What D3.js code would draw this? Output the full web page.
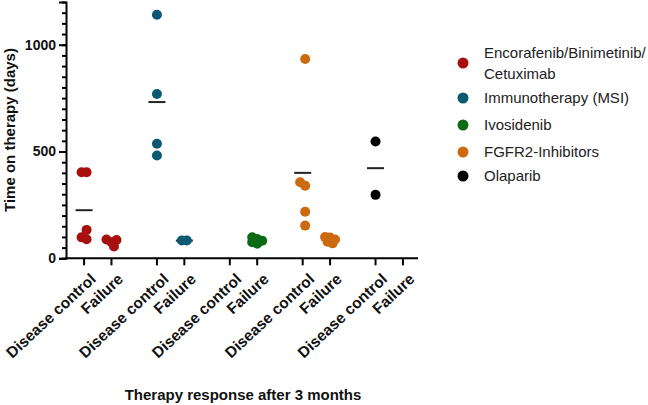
<!DOCTYPE html>
<html>
<head>
<meta charset="utf-8">
<script src="https://cdn.jsdelivr.net/npm/d3@7"></script>
<style>
  body { margin: 0; background: #fff; }
  svg { font-family: "Liberation Sans", Arial, sans-serif; }
</style>
</head>
<body>
<svg id="chart" width="648" height="405"></svg>
<script>
// Time on therapy per treatment group, split by response at 3 months
const therapies = ["Encorafenib/Binimetinib/Cetuximab", "Immunotherapy (MSI)", "Ivosidenib", "FGFR2-Inhibitors", "Olaparib"];
const responses = ["Disease control", "Failure"];
const colors = ["#a81010", "#0c5a72", "#0b6a14", "#cc6a10", "#000000"];

// values in days, [disease control, failure] per therapy
const encorafenibDays = [[403, 403, 133, 98, 89], [88, 86, 75, 55]];
const immunoDays = [[1140, 769, 536, 481], [83, 83]];
const ivosidenibDays = [[], [98, 90, 82, 75, 68]];
const fgfr2Days = [[933, 356, 340, 218, 153], [100, 97, 88, 78, 70]];
const olaparibDays = [[547, 297], []];
const allDays = [encorafenibDays, immunoDays, ivosidenibDays, fgfr2Days, olaparibDays];

const yTicks = [0, 500, 1000];
const legendLines = [["Encorafenib/Binimetinib/", "Cetuximab"], ["Immunotherapy (MSI)"], ["Ivosidenib"], ["FGFR2-Inhibitors"], ["Olaparib"]];

const svg = d3.select("#chart");
const groupGap = 2.66; // slot units between groups

const y = d3.scaleLinear().domain([0, 1200]).range([258.3, 2]);
const x = d3.scaleLinear().domain([-0.66, 12.19]).range([66, 418]);
const slot = (g, k) => g * groupGap + k;

// mean lines first, so points sit on top
const rows = [];
allDays.forEach((grp, g) => grp.forEach((vals, k) => {
    if (vals.length) rows.push({ g, k, vals });
}));

svg.append("g").selectAll("line")
    .data(rows)
    .join("line")
    .attr("x1", d => x(slot(d.g, d.k)) - 8.5)
    .attr("x2", d => x(slot(d.g, d.k)) + 8.5)
    .attr("y1", d => y(d3.mean(d.vals)))
    .attr("y2", d => y(d3.mean(d.vals)))
    .attr("stroke", "#222")
    .attr("stroke-width", 2);

// simple beeswarm so overlapping points spread sideways (they may overlap a bit)
function swarm(vals) {
    const placed = [];
    const minDist = 4.5, step = 2.5;
    vals.slice().sort((a, b) => a - b).forEach(v => {
        const py = y(v);
        for (let i = 0; i < 40; i++) {
            const off = (i % 2 ? -1 : 1) * Math.ceil(i / 2) * step;
            const ok = placed.every(p => Math.hypot(p.off - off, p.py - py) >= minDist);
            if (ok) { placed.push({ v, py, off }); break; }
        }
    });
    const mid = (d3.max(placed, p => p.off) + d3.min(placed, p => p.off)) / 2;
    placed.forEach(p => p.off -= mid);
    return placed;
}

const pts = svg.append("g");
rows.forEach(r => {
    pts.selectAll(null)
        .data(swarm(r.vals))
        .join("circle")
        .attr("cx", d => x(slot(r.g, r.k)) + d.off)
        .attr("cy", d => d.py)
        .attr("r", 5)
        .attr("fill", colors[r.g]);
});

// y axis
const yAxis = svg.append("g").attr("transform", "translate(66,0)");
yAxis.append("g")
    .call(d3.axisLeft(y).tickValues(d3.range(0, 1201, 50)).tickSize(4).tickFormat(""))
    .call(g => g.select(".domain").remove())
    .selectAll("line").attr("stroke-width", 2);
yAxis.append("g")
    .call(d3.axisLeft(y).tickValues(yTicks).tickSize(7).tickPadding(3).tickFormat(d3.format("d")))
    .call(g => g.selectAll("text").attr("font-size", 14).attr("font-weight", "bold").attr("fill", "#111").style("font-family", "Liberation Sans, Arial"))
    .selectAll("line,path").attr("stroke-width", 2);

// x axis
const ticks = [];
therapies.forEach((t, g) => responses.forEach((r, k) => ticks.push({ g, k, label: r })));
svg.append("line")
    .attr("x1", 65).attr("x2", 418)
    .attr("y1", y(0)).attr("y2", y(0))
    .attr("stroke", "#000").attr("stroke-width", 2);
const xt = svg.append("g").selectAll("g")
    .data(ticks)
    .join("g")
    .attr("transform", d => `translate(${x(slot(d.g, d.k))},${y(0)})`);
xt.append("line").attr("y2", 7).attr("stroke", "#000").attr("stroke-width", 2);
xt.append("text")
    .attr("transform", "translate(9,18) rotate(-43)")
    .attr("text-anchor", "end")
    .attr("dy", "0.35em")
    .attr("font-size", 15.5)
    .attr("font-weight", "bold")
    .attr("fill", "#111")
    .text(d => d.label);

// axis titles
svg.append("text")
    .attr("transform", "translate(15,130) rotate(-90)")
    .attr("text-anchor", "middle")
    .attr("font-size", 15)
    .attr("font-weight", "bold")
    .attr("fill", "#111")
    .text("Time on therapy (days)");
svg.append("text")
    .attr("x", 243).attr("y", 400)
    .attr("text-anchor", "middle")
    .attr("font-size", 15)
    .attr("font-weight", "bold")
    .attr("fill", "#111")
    .text("Therapy response after 3 months");

// legend
const legendY = [63, 98, 125, 152, 176];
const lg = svg.append("g").selectAll("g")
    .data(therapies)
    .join("g")
    .attr("transform", (d, i) => `translate(463,${legendY[i]})`);
lg.append("circle").attr("r", 5.5).attr("fill", (d, i) => colors[i]);
lg.append("text")
    .attr("x", 21)
    .attr("font-size", 15)
    .attr("fill", "#222")
    .each(function (d, i) {
        const lines = legendLines[i];
        const t = d3.select(this);
        lines.forEach((ln, j) => {
            t.append("tspan")
                .attr("x", 21)
                .attr("y", (j - (lines.length - 1) / 2) * 21)
                .attr("dy", "0.35em")
                .text(ln);
        });
    });
</script>
</body>
</html>
